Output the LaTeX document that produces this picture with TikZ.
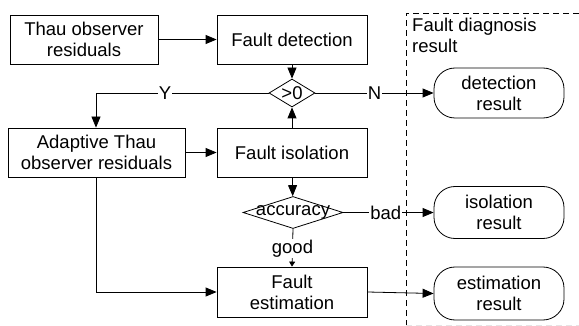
\documentclass[tikz,border=0pt]{standalone}
\usepackage{fontspec}
\setmainfont{Liberation Sans}
\usetikzlibrary{arrows.meta,shapes.geometric}
\begin{document}
\begin{tikzpicture}[x=1pt,y=-1pt,
  every node/.style={font=\fontsize{18.5}{21}\selectfont},
  box/.style={draw,line width=0.8pt,rectangle,inner sep=0pt,align=center},
  decision/.style={draw,line width=0.8pt,diamond,inner sep=0pt},
  terminal/.style={draw,line width=0.8pt,rectangle,rounded corners=21pt,inner sep=0pt,align=center,minimum width=130pt},
  flow/.style={line width=0.8pt,-{Triangle[length=11pt,width=9pt]}},
  shortflow/.style={line width=0.8pt,-{Triangle[length=5pt,width=6pt]}},
  tag/.style={fill=white,inner sep=1pt},
  frame/.style={line width=0.8pt,dash pattern=on 6pt off 4pt}]
\useasboundingbox (0,0) rectangle (579,326);

% process boxes
\node[box,minimum width=148pt,minimum height=49pt] (thau) at (84,39.5) {Thau observer\\residuals};
\node[box,minimum width=150pt,minimum height=49pt] (det) at (292,39.5) {Fault detection};
\node[box,minimum width=177pt,minimum height=49pt] (adapt) at (96.5,152.5) {Adaptive Thau\\observer residuals};
\node[box,minimum width=150pt,minimum height=49pt] (iso) at (292,152.5) {Fault isolation};
\node[box,minimum width=150pt,minimum height=50pt] (est) at (292,292) {Fault\\estimation};

% decisions
\node[decision,minimum width=46pt,minimum height=28pt] (gt) at (292,93) {};
\node at (gt) {>0};
\node[decision,minimum width=100pt,minimum height=32pt] (acc) at (293,212.5) {};
\node at (acc) {accuracy};

% result frame
\draw[frame] (406,326) -- (406,13) -- (579,13);
\draw[frame,gray!20] (406,325.5) -- (579,325.5);
\node[anchor=north west,align=left,inner sep=0pt] (frametitle) at (412,18) {Fault diagnosis\\result};

% result terminals
\node[terminal,minimum height=50pt] (detres) at (499,93) {detection\\result};
\node[terminal,minimum height=52pt] (isores) at (499,212.5) {isolation\\result};
\node[terminal,minimum height=53pt] (estres) at (499,293.5) {estimation\\result};

% connectors
\coordinate (ycorner) at (96,93);
\coordinate (dcorner) at (96,292);
\draw[flow] (thau) -- (det);
\draw[flow] (det) -- (gt);
\draw[flow] (iso) -- (gt);
\draw[flow] (gt.west) -- node[tag,pos=0.6] {Y} (ycorner) -- (adapt.north -| ycorner);
\draw[flow] (gt.east) -- node[tag,pos=0.5] {N} (detres.west);
\draw[flow] (adapt.east |- iso.west) -- (iso.west);
\draw[flow] (iso) -- (acc);
\draw[flow] (acc.east) -- node[tag,pos=0.47] {bad} (isores.west);
\draw[shortflow] (acc.south) -- node[tag,pos=0.52] {good} (est.north);
\draw[flow] (adapt.south -| ycorner) -- (dcorner) -- (est.west);
\draw[flow] (est.east) -- (estres.west);
\end{tikzpicture}
\end{document}
